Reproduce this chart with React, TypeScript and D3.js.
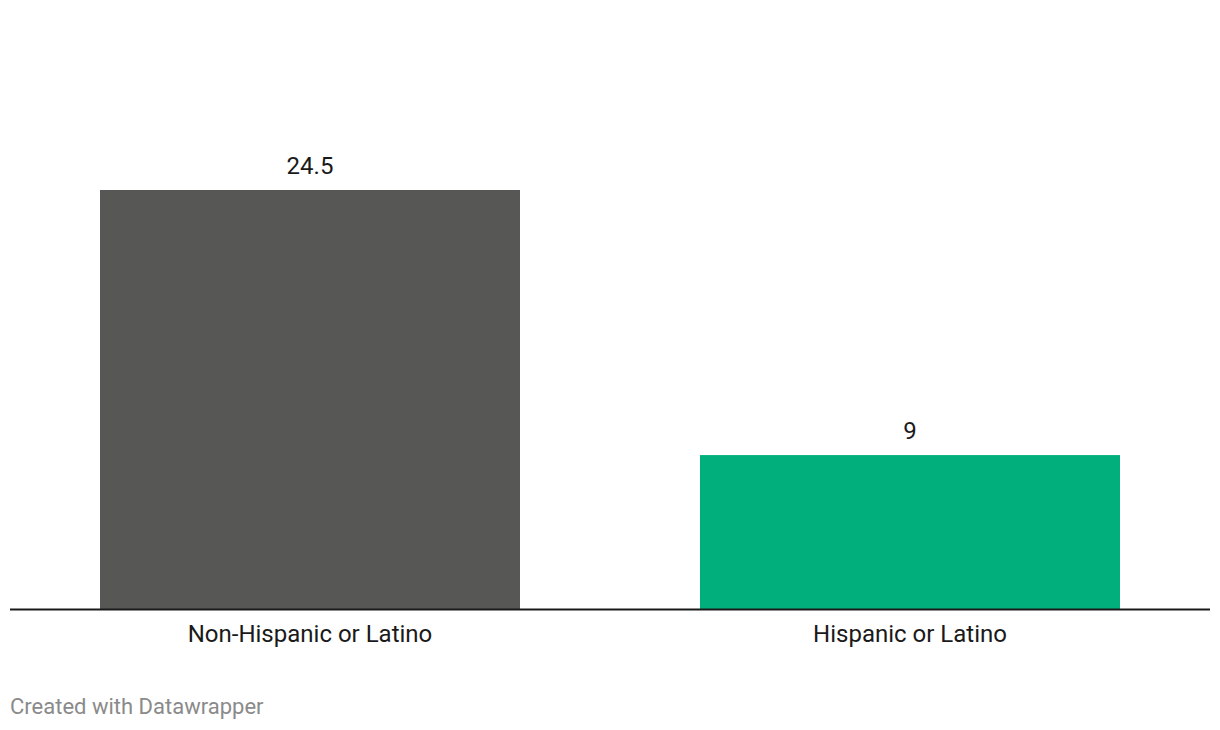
import React from "react";
import * as d3 from "d3";

const categories = ["Non-Hispanic or Latino", "Hispanic or Latino"];
const values = [24.5, 9];
const colors = ["#575756", "#00af7b"];
const footer = "Created with Datawrapper";

const W = 1220;
const H = 730;

export default function App() {
  const x = d3
    .scaleBand<string>()
    .domain(categories)
    .range([10, 1210])
    .paddingInner(0.3)
    .paddingOuter(0.15);
  const y = d3.scaleLinear().domain([0, 24.5]).range([609, 190]);
  const font = "Roboto, sans-serif";
  return (
    <div style={{ position: "absolute", left: 0, top: 0, background: "#fff" }}>
      <svg width={W} height={H} style={{ display: "block" }}>
        <rect width={W} height={H} fill="#fff" />
        {categories.map((c, i) => (
          <g key={c}>
            <rect
              x={x(c)!}
              y={y(values[i])}
              width={x.bandwidth()}
              height={y(0) - y(values[i])}
              fill={colors[i]}
            />
            <text
              x={x(c)! + x.bandwidth() / 2}
              y={y(values[i]) - 16}
              textAnchor="middle"
              fontFamily={font}
              fontSize={24}
              fill="#1a1a1a"
            >
              {d3.format("")(values[i])}
            </text>
            <text
              x={x(c)! + x.bandwidth() / 2}
              y={y(0) + 33}
              textAnchor="middle"
              fontFamily={font}
              fontSize={24}
              fill="#1a1a1a"
            >
              {c}
            </text>
          </g>
        ))}
        <line x1={10} x2={1210} y1={y(0) + 0.5} y2={y(0) + 0.5} stroke="#1a1a1a" strokeWidth={2} />
        <text x={10} y={714} fontFamily={font} fontSize={22} fill="#8a8a8a">
          {footer}
        </text>
      </svg>
    </div>
  );
}
